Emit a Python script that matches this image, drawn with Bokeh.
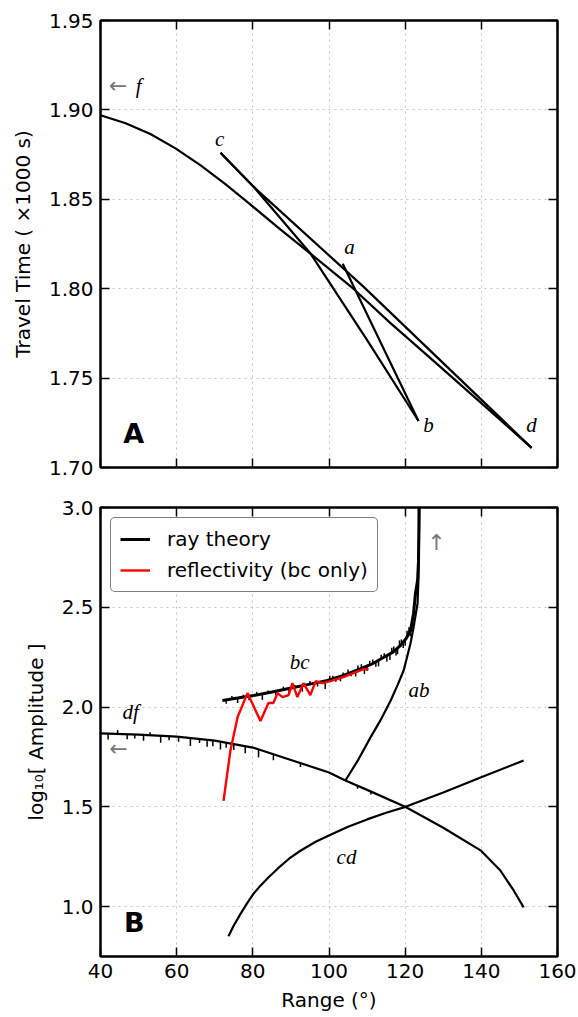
import numpy as np
from bokeh.plotting import figure
from bokeh.models import (LinearAxis, FixedTicker, PrintfTickFormatter, Range1d,
                          CustomJSTickFormatter)
from bokeh.layouts import column
from bokeh.core.properties import value
from bokeh.embed import file_html
from bokeh.resources import INLINE

# ---------------- data ----------------
x_ticks = [40, 60, 80, 100, 120, 140, 160]
tt_ticks = [1.70, 1.75, 1.80, 1.85, 1.90, 1.95]
amp_ticks = [1.0, 1.5, 2.0, 2.5, 3.0]

# panel A: travel time (x1000 s) vs range (deg)
tt_df_x = [40.0, 46.6, 53.1, 59.7, 66.3, 72.8, 79.4, 87.3, 95.2, 106.4, 116.0, 126.7, 140.0, 153.2]
tt_df_y = [1.897, 1.8925, 1.8865, 1.8785, 1.869, 1.8585, 1.847, 1.833, 1.8195, 1.800, 1.781, 1.761, 1.736, 1.711]
tt_cd_x = [71.5, 80.2, 109.1, 153.2]
tt_cd_y = [1.876, 1.857, 1.801, 1.711]
tt_bc_x = [71.5, 80.2, 95.2, 110.1, 123.5]
tt_bc_y = [1.876, 1.857, 1.8195, 1.771, 1.726]
tt_ab_x = [103.6, 123.5]
tt_ab_y = [1.814, 1.726]

# panel B: log10 amplitude vs range (deg)
amp_df_x = [40, 50, 60, 70, 80, 90, 100, 104.3, 110, 120, 130, 139.8, 145, 148.5, 151.1]
amp_df_y = [1.868, 1.862, 1.852, 1.832, 1.797, 1.735, 1.672, 1.632, 1.585, 1.50, 1.395, 1.282, 1.181, 1.081, 0.996]
amp_bc_x = [72.0, 76.0, 80.2, 85.0, 90.7, 95.0, 99.6, 104.0, 108.3, 111.5, 114.3, 116.8, 118.8,
            120.3, 121.4, 122.2, 122.7, 123.25, 123.5, 123.6, 123.65]
amp_bc_y = [2.033, 2.045, 2.058, 2.075, 2.098, 2.115, 2.133, 2.16, 2.193, 2.218, 2.248, 2.275, 2.309,
            2.345, 2.384, 2.469, 2.569, 2.634, 2.73, 2.9, 3.1]
amp_ab_x = [104.3, 107.5, 110.9, 113.5, 116.2, 118.0, 119.6, 121.4, 122.2, 123.25, 123.5, 123.75, 123.8]
amp_ab_y = [1.632, 1.73, 1.848, 1.933, 2.033, 2.11, 2.183, 2.319, 2.399, 2.519, 2.649, 3.0, 3.1]
amp_cd_x = [73.6, 75.0, 76.8, 78.6, 80.2, 82.0, 84.0, 86.5, 89.5, 92.5, 96.5, 100.4, 105.0, 110.0,
            115.0, 120.1, 130.0, 139.8, 151.1]
amp_cd_y = [0.851, 0.905, 0.965, 1.02, 1.065, 1.105, 1.145, 1.19, 1.24, 1.28, 1.325, 1.36, 1.40,
            1.437, 1.47, 1.50, 1.572, 1.647, 1.732]
refl_x = [72.3, 74.1, 76.0, 78.6, 82.0, 84.1, 85.4, 86.5, 87.8, 89.4, 90.4, 91.7, 93.3, 95.1,
          96.5, 98.3, 100.4, 103.8, 106.4, 109.1, 110.4]
refl_y = [1.53, 1.78, 1.95, 2.07, 1.93, 2.02, 2.02, 2.07, 2.05, 2.06, 2.12, 2.05, 2.12, 2.06,
          2.13, 2.12, 2.13, 2.15, 2.17, 2.19, 2.19]

# numerical noise spikes seen on the ray-theory amplitude curves
df_spike_x = [42, 44.5, 47, 49, 51.3, 53, 55.8, 58, 60.5, 63.6, 66, 68, 69.5, 71.5, 73, 75, 78,
              81.5, 85.4, 92.5, 107.5, 111]
df_spike_dy = [-0.03, 0.02, -0.025, -0.02, -0.03, 0.015, -0.035, -0.02, -0.025, -0.04, -0.02,
               -0.035, -0.03, -0.04, -0.025, -0.03, -0.035, -0.04, -0.03, -0.02, -0.015, -0.015]
bc_spike_x = [73, 74.5, 76, 77.5, 79, 81, 82.5, 84, 86, 88, 89.5, 91, 93, 95, 97, 99, 100.2, 101,
              101.8, 103, 103.7, 105, 105.8, 107, 107.6, 108.5, 109.3, 110, 110.7, 111.5, 112.3,
              113, 113.7, 114.5, 115.2, 116, 116.5, 117, 117.6, 118, 118.5, 119, 119.5, 120,
              120.5, 121, 121.4, 121.8]
bc_spike_dy = [-0.02, 0.015, -0.025, 0.012, -0.02, 0.015, -0.03, 0.012, -0.02, 0.015, -0.025, 0.012,
               -0.03, 0.015, -0.02, -0.04, 0.02, 0.015, -0.02, -0.025, 0.015, 0.02, -0.02, -0.03,
               0.02, 0.02, -0.035, -0.025, 0.02, 0.02, -0.025, -0.03, 0.02, 0.02, -0.03, -0.03,
               0.025, 0.025, -0.03, -0.03, 0.03, 0.025, -0.03, -0.03, 0.03, 0.03, -0.03, -0.03]

FONT = "DejaVu Sans"
GRID = "#c4c4c4"
FS = "20px"


def hidden_axis(ticks):
    return LinearAxis(ticker=FixedTicker(ticks=ticks),
                      formatter=CustomJSTickFormatter(code="return '';"),
                      major_label_text_font_size="0px", major_label_standoff=0,
                      axis_line_color=None, major_tick_in=9, major_tick_out=0,
                      major_tick_line_width=1.5, minor_tick_line_color=None)


def style(p, yticks, yfmt, ylabel, show_x):
    p.background_fill_color = "white"
    p.border_fill_color = "white"
    p.outline_line_color = "black"
    p.outline_line_width = 2.5
    p.outline_line_alpha = 1.0
    xa = p.xaxis[0]
    ya = p.yaxis[0]
    xa.ticker = FixedTicker(ticks=x_ticks)
    ya.ticker = FixedTicker(ticks=yticks)
    ya.formatter = PrintfTickFormatter(format=yfmt)
    xa.formatter = PrintfTickFormatter(format="%d")
    for ax in (xa, ya):
        ax.axis_line_color = None
        ax.major_tick_in = 9
        ax.major_tick_out = 0
        ax.major_tick_line_width = 1.5
        ax.minor_tick_line_color = None
        ax.major_label_text_font = FONT
        ax.major_label_text_font_size = FS
        ax.major_label_text_color = "black"
        ax.axis_label_text_font = FONT
        ax.axis_label_text_font_size = FS
        ax.axis_label_text_font_style = "normal"
        ax.axis_label_text_color = "black"
    ya.major_label_standoff = 7
    ya.axis_label = ylabel
    ya.axis_label_standoff = 11
    if show_x:
        xa.major_label_standoff = 7
        xa.axis_label = "Range (°)"
        xa.axis_label_standoff = 7
    else:
        xa.formatter = CustomJSTickFormatter(code="return '';")
        xa.major_label_text_font_size = "0px"
        xa.major_label_standoff = 0
    p.add_layout(hidden_axis(yticks), "right")
    p.add_layout(hidden_axis(x_ticks), "above")
    p.xgrid.ticker = FixedTicker(ticks=x_ticks)
    p.ygrid.ticker = FixedTicker(ticks=yticks)
    for g in (p.xgrid, p.ygrid):
        g.grid_line_color = GRID
        g.grid_line_dash = "2 4"
        g.grid_line_width = 1


def label(p, x, y, t, size="21px", color="black", font="Liberation Serif", style_="italic"):
    p.text(x=[x], y=[y], text=[t], text_font=value(font), text_font_style=style_,
           text_font_size=size, text_color=color, text_align="center", text_baseline="middle")


# ---------------- panel A ----------------
p1 = figure(width=578, height=487, x_range=Range1d(40, 160), y_range=Range1d(1.70, 1.95),
            output_backend="svg", toolbar_location=None,
            min_border_left=100, min_border_right=21, min_border_top=20, min_border_bottom=20)
style(p1, tt_ticks, "%.2f", "Travel Time ( ×1000 s)", False)
for xs, ys in ((tt_df_x, tt_df_y), (tt_cd_x, tt_cd_y), (tt_bc_x, tt_bc_y), (tt_ab_x, tt_ab_y)):
    p1.line(xs, ys, line_color="black", line_width=2.2)
label(p1, 44.6, 1.9136, "←", size="22px", color="#777777", font="DejaVu Sans", style_="normal")
label(p1, 50.0, 1.9136, "f")
label(p1, 71.3, 1.884, "c")
label(p1, 105.4, 1.8236, "a")
label(p1, 126.1, 1.7235, "b")
label(p1, 153.2, 1.7235, "d")
label(p1, 48.7, 1.719, "A", size="27px", font="DejaVu Sans", style_="bold")

# ---------------- panel B ----------------
p2 = figure(width=578, height=530, x_range=Range1d(40, 160), y_range=Range1d(0.75, 3.0),
            output_backend="svg", toolbar_location=None,
            min_border_left=100, min_border_right=21, min_border_top=20, min_border_bottom=61)
style(p2, amp_ticks, "%.1f", "log₁₀[ Amplitude ]", True)

df_base = np.interp(df_spike_x, amp_df_x, amp_df_y)
bc_base = np.interp(bc_spike_x, amp_bc_x, amp_bc_y)
p2.segment(x0=df_spike_x, y0=df_base, x1=df_spike_x, y1=df_base + np.array(df_spike_dy),
           line_color="black", line_width=1.5)
p2.segment(x0=bc_spike_x, y0=bc_base, x1=bc_spike_x, y1=bc_base + np.array(bc_spike_dy),
           line_color="black", line_width=1.5)
p2.line(amp_df_x, amp_df_y, line_color="black", line_width=2.2)
p2.line(amp_cd_x, amp_cd_y, line_color="black", line_width=2.2)
p2.line(amp_ab_x, amp_ab_y, line_color="black", line_width=2.2)
p2.line(amp_bc_x, amp_bc_y, line_color="black", line_width=3, legend_label="ray theory")
p2.line(refl_x, refl_y, line_color="red", line_width=2.4, legend_label="reflectivity (bc only)")

label(p2, 47.9, 1.973, "df")
label(p2, 44.7, 1.793, "←", size="22px", color="#777777", font="DejaVu Sans", style_="normal")
label(p2, 92.3, 2.228, "bc")
label(p2, 123.6, 2.083, "ab")
label(p2, 104.6, 1.247, "cd")
label(p2, 128.2, 2.825, "↑", size="22px", color="#777777", font="DejaVu Sans", style_="normal")
label(p2, 48.9, 0.921, "B", size="27px", font="DejaVu Sans", style_="bold")

lg = p2.legend[0]
lg.location = "top_left"
lg.margin = 10
lg.padding = 9
lg.spacing = 7
lg.glyph_width = 30
lg.glyph_height = 20
lg.label_height = 20
lg.label_standoff = 17
lg.label_text_font = FONT
lg.label_text_font_size = FS
lg.label_text_color = "black"
lg.border_line_color = "black"
lg.border_line_width = 1.5
lg.background_fill_color = "white"
lg.background_fill_alpha = 1.0
if "border_radius" in lg.properties():
    lg.border_radius = 5

layout = column(p1, p2, spacing=0)
open("out.html", "w").write(file_html(layout, INLINE))
